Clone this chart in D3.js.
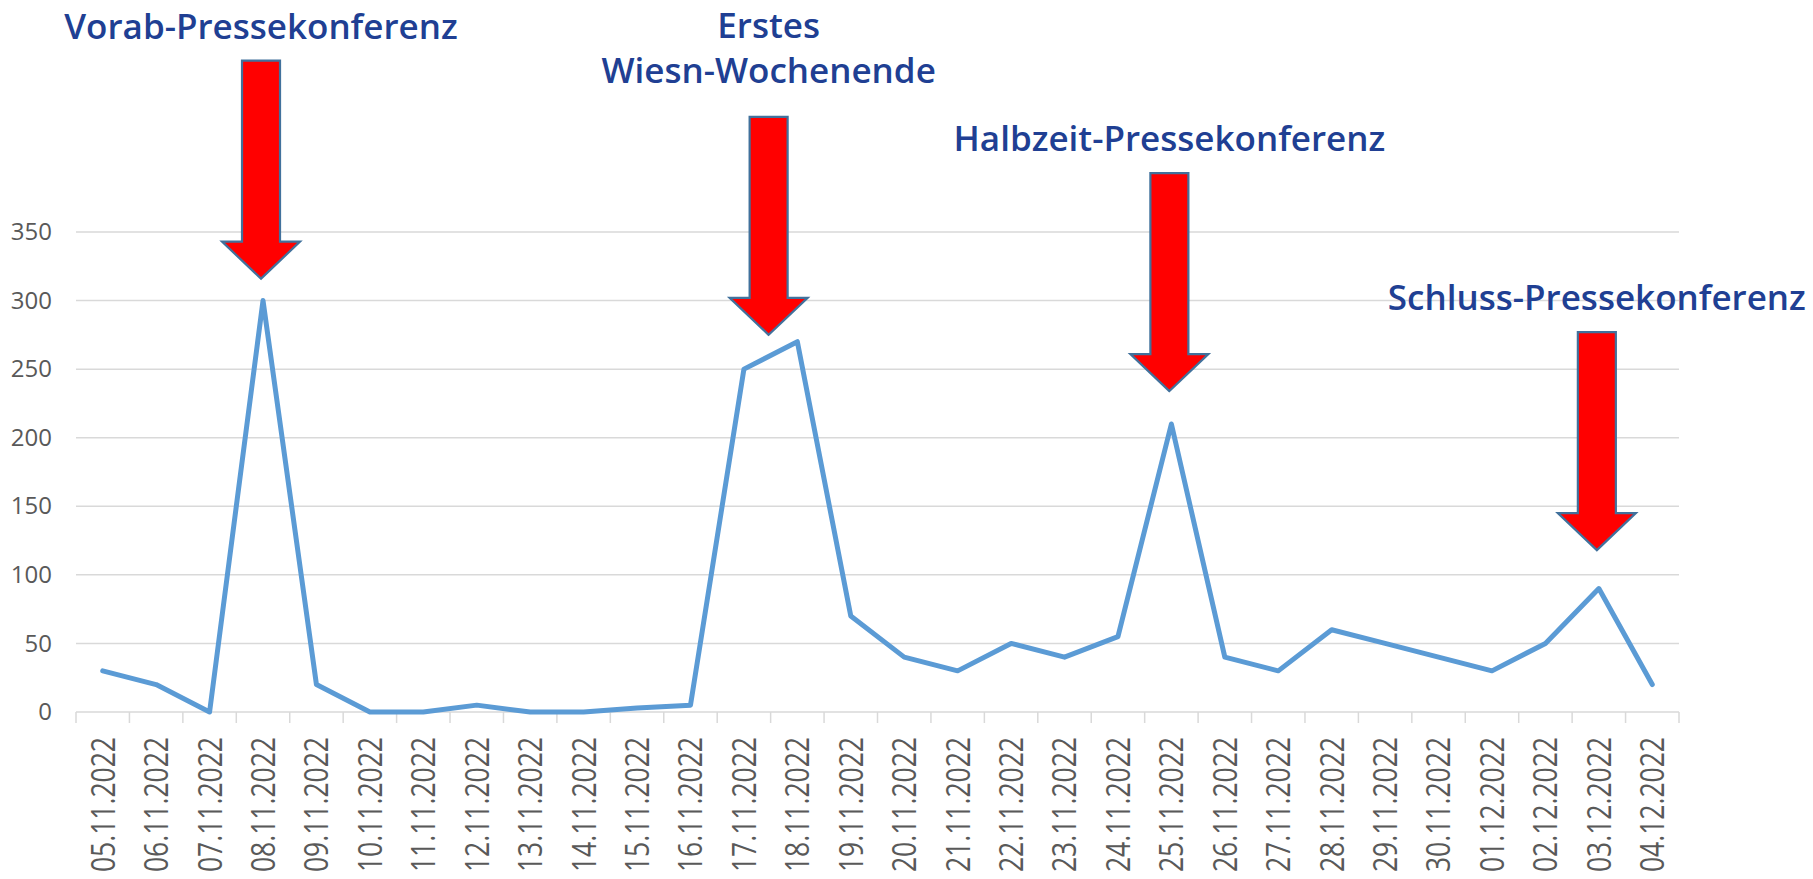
<!DOCTYPE html>
<html>
<head>
<meta charset="utf-8">
<script src="https://cdn.jsdelivr.net/npm/d3@7"></script>
<style>
  body { margin: 0; background: #fff; }
  svg { display: block; font-family: "Open Sans", "Noto Sans", sans-serif; }
</style>
</head>
<body>
<div class="chartwrap"></div>
<script>
// data
var dates = ["05.11.2022", "06.11.2022", "07.11.2022", "08.11.2022", "09.11.2022",
    "10.11.2022", "11.11.2022", "12.11.2022", "13.11.2022", "14.11.2022",
    "15.11.2022", "16.11.2022", "17.11.2022", "18.11.2022", "19.11.2022",
    "20.11.2022", "21.11.2022", "22.11.2022", "23.11.2022", "24.11.2022",
    "25.11.2022", "26.11.2022", "27.11.2022", "28.11.2022", "29.11.2022",
    "30.11.2022", "01.12.2022", "02.12.2022", "03.12.2022", "04.12.2022"];
var counts = [30, 20, 0, 300, 20, 0, 0, 5, 0, 0, 3, 5, 250, 270, 70,
    40, 30, 50, 40, 55, 210, 40, 30, 60, 50, 40, 30, 50, 90, 20];
var yTicks = [0, 50, 100, 150, 200, 250, 300, 350];

// annotations: label lines, dates the arrow sits over, value at arrow tip
var noteLabels = [["Vorab-Pressekonferenz"], ["Erstes", "Wiesn-Wochenende"],
    ["Halbzeit-Pressekonferenz"], ["Schluss-Pressekonferenz"]];
var noteDates = [["08.11.2022"], ["17.11.2022", "18.11.2022"],
    ["25.11.2022"], ["03.12.2022"]];
var noteTips = [316, 275, 234, 118];

var width = 1813, height = 879;
var margin = {top: 232, left: 76, right: 134, bottom: 167};

var svg = d3.select(".chartwrap").append("svg")
    .attr("width", width)
    .attr("height", height);

var x = d3.scaleBand()
    .domain(dates)
    .range([margin.left, width - margin.right]);

var y = d3.scaleLinear()
    .domain([0, 350])
    .range([height - margin.bottom, margin.top]);

var labelColor = "#595959";

// gridlines
svg.append("g")
    .selectAll("line")
    .data(yTicks)
    .enter().append("line")
    .attr("x1", x.range()[0])
    .attr("x2", x.range()[1])
    .attr("y1", function(d) { return y(d); })
    .attr("y2", function(d) { return y(d); })
    .attr("stroke", "#d9d9d9")
    .attr("stroke-width", 1.5);

// y axis labels
var yAxis = d3.axisLeft(y)
    .tickValues(yTicks)
    .tickSize(0)
    .tickPadding(24);

var yg = svg.append("g")
    .attr("transform", "translate(" + margin.left + ",0)")
    .call(yAxis);
yg.select(".domain").remove();
yg.selectAll("text")
    .attr("fill", labelColor)
    .style("font-size", "24px")
    .style("font-family", "'Open Sans', sans-serif");

// x axis: tick marks on band edges
var edges = dates.map(function(d) { return x(d); }).concat([x.range()[1]]);
svg.append("g")
    .selectAll("line")
    .data(edges)
    .enter().append("line")
    .attr("x1", function(d) { return d; })
    .attr("x2", function(d) { return d; })
    .attr("y1", y(0))
    .attr("y2", y(0) + 11)
    .attr("stroke", "#d9d9d9")
    .attr("stroke-width", 1.5);

svg.append("g")
    .selectAll("text")
    .data(dates)
    .enter().append("text")
    .attr("transform", function(d) {
        return "translate(" + (x(d) + x.bandwidth()/2) + "," + (y(0) + 25) + ") rotate(-90) scale(1,1.25)";
    })
    .attr("dy", "0.36em")
    .attr("text-anchor", "end")
    .attr("fill", labelColor)
    .style("font-size", "26.5px")
    .text(function(d) { return d; });

// the line
var line = d3.line()
    .x(function(d, i) { return x(dates[i]) + x.bandwidth()/2; })
    .y(function(d) { return y(d); });

svg.append("path")
    .datum(counts)
    .attr("d", line)
    .attr("fill", "none")
    .attr("stroke", "#5b9bd5")
    .attr("stroke-width", 5)
    .attr("stroke-linejoin", "round")
    .attr("stroke-linecap", "round");

// arrows + labels
var arrowLen = 218, headLen = 37, shaftHalf = 19, headHalf = 39;

function arrowPath(cx, ty) {
    return "M" + cx + "," + ty +
        "L" + (cx - headHalf) + "," + (ty - headLen) +
        "L" + (cx - shaftHalf) + "," + (ty - headLen) +
        "L" + (cx - shaftHalf) + "," + (ty - arrowLen) +
        "L" + (cx + shaftHalf) + "," + (ty - arrowLen) +
        "L" + (cx + shaftHalf) + "," + (ty - headLen) +
        "L" + (cx + headHalf) + "," + (ty - headLen) + "Z";
}

noteLabels.forEach(function(lines, i) {
    var cx = d3.mean(noteDates[i], function(d) { return x(d) + x.bandwidth()/2; }) - 2;
    var ty = y(noteTips[i]);

    svg.append("path")
        .attr("d", arrowPath(cx, ty))
        .attr("fill", "#ff0000")
        .attr("stroke", "#41719c")
        .attr("stroke-width", 2.2)
        .attr("stroke-linejoin", "miter");

    var gap = lines.length > 1 ? 34 : 22;
    var base = ty - arrowLen - gap;
    lines.forEach(function(t, j) {
        svg.append("text")
            .attr("x", cx)
            .attr("y", base - (lines.length - 1 - j) * 45)
            .attr("text-anchor", "middle")
            .attr("fill", "#203f93")
            .style("font-size", "35px")
            .style("font-weight", 600)
            .text(t);
    });
});
</script>
</body>
</html>
